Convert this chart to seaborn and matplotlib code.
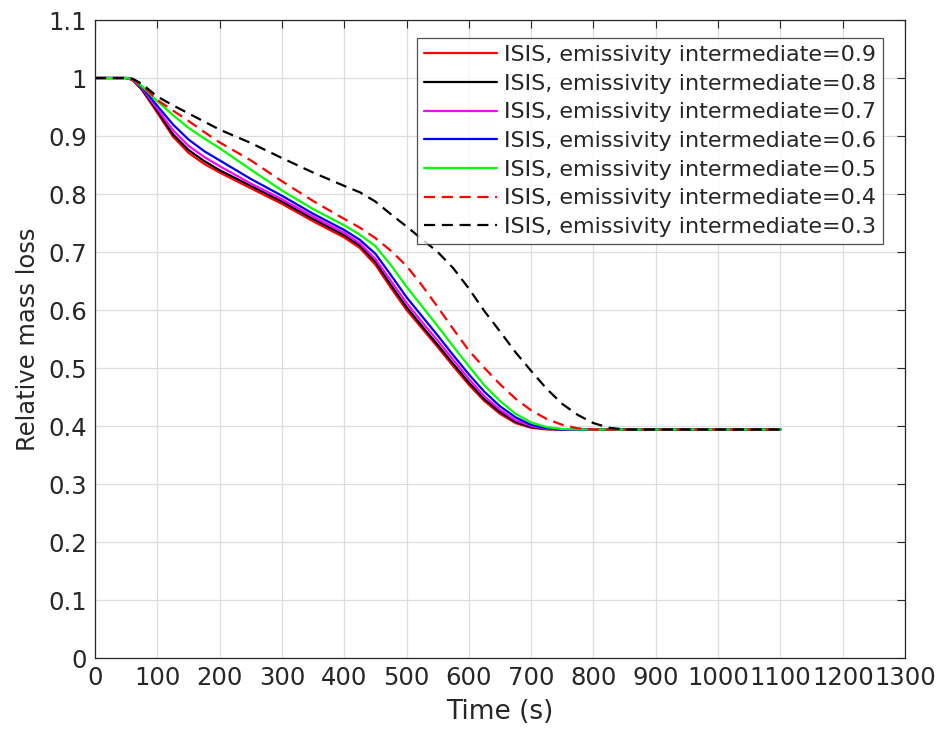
import numpy as np
import pandas as pd
import seaborn as sns
import matplotlib.pyplot as plt

# time axis (s), shared by all runs
time_s = [0, 50, 60, 75, 100, 125, 150, 175, 200, 250, 300, 350, 400, 425, 450, 475,
          500, 525, 550, 575, 600, 625, 650, 675, 700, 725, 750, 775, 800, 825, 850, 1100]

# relative mass loss for each intermediate emissivity
eps_09 = [1, 1, 0.997, 0.980, 0.940, 0.899, 0.871, 0.852, 0.837, 0.810,
          0.783, 0.753, 0.725, 0.707, 0.678, 0.638, 0.600, 0.568, 0.536, 0.503,
          0.471, 0.443, 0.421, 0.405, 0.397, 0.394, 0.394, 0.394, 0.394, 0.394, 0.394, 0.394]
eps_08 = [1, 1, 0.997, 0.981, 0.943, 0.903, 0.876, 0.857, 0.841, 0.814,
          0.787, 0.757, 0.729, 0.711, 0.683, 0.643, 0.605, 0.572, 0.540, 0.507,
          0.475, 0.446, 0.424, 0.407, 0.398, 0.395, 0.394, 0.394, 0.394, 0.394, 0.394, 0.394]
eps_07 = [1, 1, 0.997, 0.983, 0.947, 0.910, 0.883, 0.864, 0.848, 0.818,
          0.791, 0.761, 0.733, 0.715, 0.688, 0.650, 0.612, 0.579, 0.547, 0.514,
          0.481, 0.451, 0.428, 0.410, 0.400, 0.395, 0.394, 0.394, 0.394, 0.394, 0.394, 0.394]
eps_06 = [1, 1, 0.998, 0.985, 0.952, 0.920, 0.894, 0.874, 0.858, 0.826,
          0.797, 0.766, 0.738, 0.721, 0.697, 0.660, 0.622, 0.589, 0.556, 0.522,
          0.489, 0.459, 0.434, 0.415, 0.402, 0.396, 0.394, 0.394, 0.394, 0.394, 0.394, 0.394]
eps_05 = [1, 1, 0.998, 0.986, 0.960, 0.936, 0.914, 0.896, 0.879, 0.842,
          0.806, 0.774, 0.746, 0.730, 0.710, 0.677, 0.640, 0.606, 0.572, 0.537,
          0.503, 0.470, 0.443, 0.421, 0.406, 0.398, 0.395, 0.394, 0.394, 0.394, 0.394, 0.394]
eps_04 = [1, 1, 0.998, 0.988, 0.962, 0.944, 0.926, 0.907, 0.889, 0.858,
          0.822, 0.788, 0.757, 0.742, 0.724, 0.702, 0.676, 0.642, 0.605, 0.567,
          0.530, 0.500, 0.472, 0.447, 0.427, 0.412, 0.402, 0.396, 0.394, 0.394, 0.394, 0.394]
eps_03 = [1, 1, 0.999, 0.990, 0.968, 0.953, 0.939, 0.925, 0.911, 0.888,
          0.862, 0.837, 0.814, 0.803, 0.787, 0.765, 0.744, 0.722, 0.700, 0.672,
          0.637, 0.598, 0.563, 0.527, 0.495, 0.464, 0.438, 0.419, 0.405, 0.397, 0.394, 0.394]

labels = ["ISIS, emissivity intermediate=0.9",
          "ISIS, emissivity intermediate=0.8",
          "ISIS, emissivity intermediate=0.7",
          "ISIS, emissivity intermediate=0.6",
          "ISIS, emissivity intermediate=0.5",
          "ISIS, emissivity intermediate=0.4",
          "ISIS, emissivity intermediate=0.3"]
series = [eps_09, eps_08, eps_07, eps_06, eps_05, eps_04, eps_03]
colors = ["#ff0000", "#000000", "#ff00ff", "#0000ff", "#00ff00", "#ff0000", "#000000"]
dash_styles = ["", "", "", "", "", (5, 3), (5, 3)]

df = pd.concat([pd.DataFrame({"Time": time_s, "Mass": vals, "Case": lab})
                for lab, vals in zip(labels, series)], ignore_index=True)

sns.set_style("white")
plt.rcParams["font.family"] = ["DejaVu Sans"]

fig = plt.figure(figsize=(9.39, 7.33), dpi=100)
ax = fig.add_axes([0.1012, 0.1023, 0.8626, 0.8704])

sns.lineplot(data=df, x="Time", y="Mass", hue="Case", style="Case",
             palette=dict(zip(labels, colors)), dashes=dict(zip(labels, dash_styles)),
             hue_order=labels, style_order=labels, sort=False, linewidth=1.6, ax=ax)

ax.set_xlim(0, 1300)
ax.set_ylim(0, 1.1)
ax.set_xticks(np.arange(0, 1301, 100))
ax.set_yticks(np.arange(0, 1.101, 0.1))
ax.set_yticklabels(["0", "0.1", "0.2", "0.3", "0.4", "0.5", "0.6", "0.7", "0.8", "0.9", "1", "1.1"])
ax.grid(True, color="#dedede", linewidth=0.9)
ax.set_axisbelow(True)
for sp in ax.spines.values():
    sp.set_color("#262626")
    sp.set_linewidth(0.9)
ax.tick_params(direction="in", length=6, width=0.8, color="#262626",
               top=True, right=True, labelsize=17.5, pad=6)
ax.set_xlabel("Time (s)", fontsize=19, labelpad=6)
ax.set_ylabel("Relative mass loss", fontsize=17.5, labelpad=6)

handles, labs = ax.get_legend_handles_labels()
leg = ax.legend(handles, labs, loc="upper right", bbox_to_anchor=(0.9728, 0.9718),
                fontsize=16, frameon=True, fancybox=False, handlelength=3.3,
                handletextpad=0.3, labelspacing=0.39, borderpad=0.32,
                borderaxespad=0)
leg.get_frame().set_edgecolor("#262626")
leg.get_frame().set_linewidth(0.9)

plt.savefig("out.png", dpi=100)
